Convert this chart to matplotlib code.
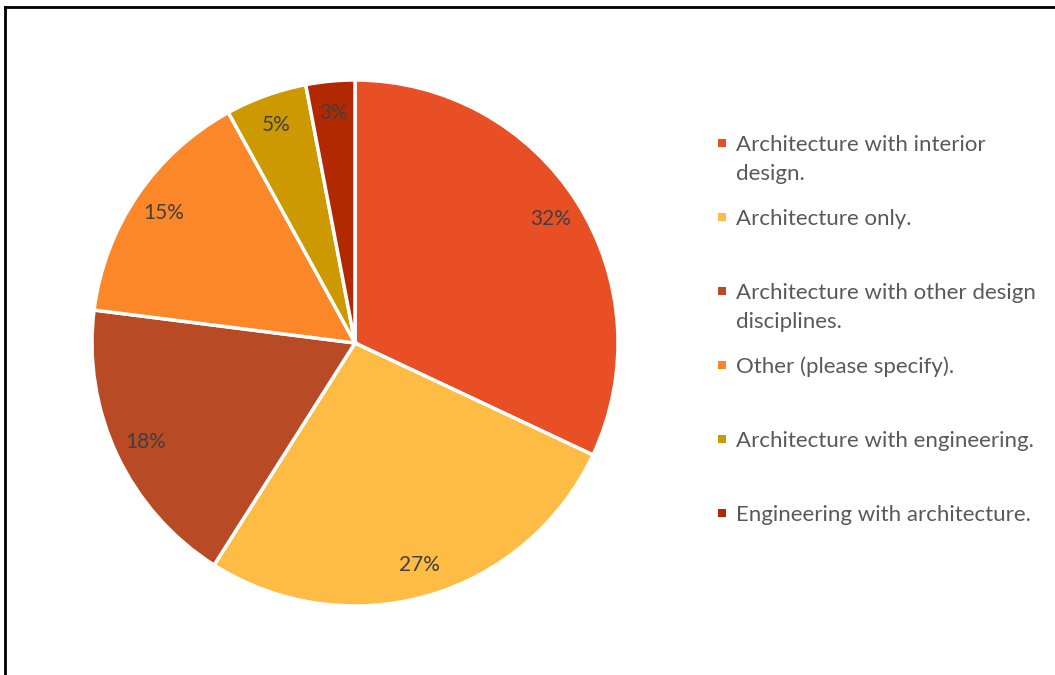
import numpy as np
import matplotlib.pyplot as plt
from matplotlib.patches import Rectangle
from matplotlib.lines import Line2D

labels = ['Architecture with interior\ndesign.',
          'Architecture only.',
          'Architecture with other design\ndisciplines.',
          'Other (please specify).',
          'Architecture with engineering.',
          'Engineering with architecture.']
shares = [32, 27, 18, 15, 5, 3]
colors = ['#E94F24', '#FFBC45', '#B84A26', '#FC8728', '#CC9900', '#B22800']

W, H = 1055, 675
fig = plt.figure(figsize=(W / 100, H / 100), dpi=100)
plt.rcParams['font.family'] = ['Lato', 'DejaVu Sans']

# pie centred at (355, 343) px, radius 263 px
cx, cy, r = 355, 343, 263
ax = fig.add_axes([(cx - r) / W, 1 - (cy + r) / H, 2 * r / W, 2 * r / H])
wedges, texts = ax.pie(shares, colors=colors, startangle=90, counterclock=False,
                       radius=1, wedgeprops=dict(edgecolor='white', linewidth=2.5))
ax.set_xlim(-1, 1)
ax.set_ylim(-1, 1)
ax.set_aspect('equal')
ax.axis('off')

# percentage labels inside the slices
start = 90
for w, v in zip(wedges, shares):
    mid = np.deg2rad(start - v * 3.6 / 2)
    start -= v * 3.6
    ax.text(0.88 * np.cos(mid), 0.88 * np.sin(mid), f'{v}%', ha='center', va='center',
            fontsize=15, color='#404040')

# legend on the right, one slot of 74 px per entry
for i, (lab, col) in enumerate(zip(labels, colors)):
    ytop = 143 + 74 * i
    fig.patches.append(Rectangle((718 / W, 1 - (ytop + 4) / H), 8 / W, 8 / H,
                                 transform=fig.transFigure, facecolor=col, edgecolor='none'))
    for j, line in enumerate(lab.split('\n')):
        fig.text(736 / W, 1 - (ytop + 29 * j) / H, line, ha='left', va='center_baseline',
                 fontsize=16, color='#595959')

# frame
fig.add_artist(Line2D([5 / W, 5 / W], [0, 1 - 7 / H], color='black', lw=2, transform=fig.transFigure))
fig.add_artist(Line2D([5 / W, 1], [1 - 7 / H, 1 - 7 / H], color='black', lw=2, transform=fig.transFigure))

fig.savefig('out.png', dpi=100)
